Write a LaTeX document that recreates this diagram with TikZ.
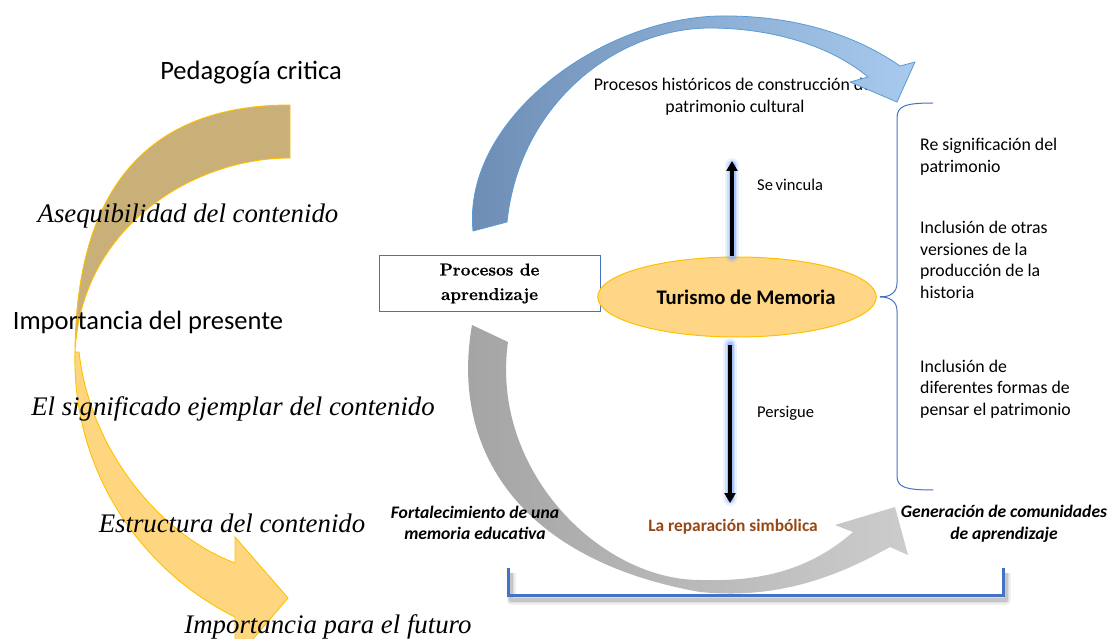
\documentclass[tikz,border=0pt]{standalone}
\usepackage{fontspec}
\setmainfont{Liberation Serif}
\newfontfamily\calib{Carlito}
\newfontfamily\lmfont[BoldFeatures={FakeBold=0.7}]{Latin Modern Roman}
\usetikzlibrary{arrows.meta,shapes.geometric}
\definecolor{tanc}{RGB}{201,175,120}
\definecolor{yelc}{RGB}{255,214,128}
\definecolor{goldc}{RGB}{255,192,0}
\definecolor{bluebr}{RGB}{68,114,196}
\definecolor{bluedk}{RGB}{108,140,180}
\definecolor{bluelt}{RGB}{168,202,238}
\definecolor{blueed}{RGB}{91,155,213}
\definecolor{glowc}{RGB}{120,165,255}
\definecolor{brownc}{RGB}{150,72,20}
\definecolor{ellc}{RGB}{255,214,133}
\begin{document}
\begin{tikzpicture}[x=1pt,y=-1pt,
  calbig/.style={font=\calib\fontsize{26.5}{30}\selectfont, inner sep=0pt},
  serit/.style={font=\itshape\fontsize{26.8}{30}\selectfont, inner sep=0pt},
  calmid/.style={font=\calib\fontsize{17.8}{21.5}\selectfont, inner sep=0pt, align=left},
  calbi/.style={font=\calib\bfseries\itshape\fontsize{17.6}{21.5}\selectfont, inner sep=0pt, align=center},
  glowline/.style={glowc, line cap=round},
  blkarrow/.style={black, line width=3.5pt, -{Triangle[width=11pt,length=10pt]}},
  braceline/.style={bluebr, line width=1pt},
  bracket/.style={bluebr, line width=3pt}]
\useasboundingbox (0,0) rectangle (1109,639);

% ---------- yellow ribbon arrow (left) ----------
\filldraw[fill=tanc, draw=goldc, line width=0.9pt]
  (290,105) .. controls (160,105) and (76,175) .. (75,353)
  .. controls (80,230) and (190,158) .. (290,158) -- cycle;
\filldraw[fill=yelc, draw=goldc, line width=0.9pt]
  (75,352) .. controls (72,470) and (140,570) .. (235,617)
  -- (235,660) -- (288,598) -- (235,537) -- (235,563)
  .. controls (160,535) and (90,450) .. (79,352) -- cycle;

% ---------- left texts ----------
\node[calbig] (pc) at (251,73) {Pedagogía critica};
\node[serit] (as) at (188,216) {Asequibilidad del contenido};
\node[calbig] (ip) at (148,322) {Importancia del presente};
\node[serit] (es) at (233,409) {El significado ejemplar del contenido};
\node[serit] (ec) at (232,523) {Estructura del contenido};
\node[serit] (if) at (328,627) {Importancia para el futuro};

% ---------- top text ----------
\node[calmid, align=center] (ph) at (735,97) {Procesos históricos de construcción del\\patrimonio cultural};

% ---------- blue ribbon arrow (top) ----------
\shade[left color=bluedk, right color=bluelt, draw=blueed, line width=0.8pt]
  (473,231) .. controls (462,120) and (600,18) .. (720,16)
  .. controls (800,15) and (860,38) .. (900,66)
  -- (915,62) -- (897,102) -- (850,82) -- (868,77)
  .. controls (830,45) and (770,28) .. (710,28)
  .. controls (620,28) and (520,100) .. (507,222) -- cycle;

% ---------- bracket at bottom ----------
\coordinate (bl) at (508,568);
\coordinate (br) at (1003,568);
\foreach \w/\o in {9/0.06,6/0.08,4/0.10}{
  \draw[black, line width=\w pt, opacity=\o, line join=round]
    ([shift={(3,5)}]bl) -- ++(0,27) -| ([shift={(3,5)}]br);}
\draw[bracket] (bl) -- ++(0,27) -| (br);

% ---------- gray ribbon arrow (bottom) ----------
\shade[left color=black!36, right color=black!20]
  (472,325) .. controls (450,450) and (520,560) .. (700,592)
  .. controls (780,600) and (840,575) .. (890,547)
  -- (908,555) -- (895,507) -- (835,525) -- (853,532)
  .. controls (810,570) and (760,582) .. (700,580)
  .. controls (600,580) and (490,470) .. (508,342) -- cycle;

% ---------- box ----------
\node[draw=bluebr, line width=1pt, minimum width=221pt, minimum height=55pt, inner sep=0pt,
  align=center, font=\lmfont\bfseries\fontsize{17.2}{24.5}\selectfont] (pa) at (489.5,283.5)
  {Procesos de\\aprendizaje};

% ---------- ellipse ----------
\node[ellipse, fill=ellc, draw=goldc, line width=1pt, minimum width=234pt, minimum height=80pt,
  inner sep=0pt, font=\calib\bfseries\fontsize{20.7}{24}\selectfont] (tm) at (737,297)
  {\hspace*{18pt}Turismo de Memoria};

% ---------- vertical arrows with glow ----------
\coordinate (uS) at (732,256);
\coordinate (uE) at (732,161);
\coordinate (dS) at (730,345);
\coordinate (dE) at (730,503);
\foreach \w/\o in {14/0.15,10/0.25,7/0.45}{
  \draw[glowline, line width=\w pt, opacity=\o] (uS) -- ([yshift=-4pt]uE);
  \draw[glowline, line width=\w pt, opacity=\o] (dS) -- ([yshift=4pt]dE);}
\draw[blkarrow] (uS) -- (uE);
\draw[blkarrow] (dS) -- (dE);
\node[font=\calib\fontsize{16.5}{19}\selectfont, inner sep=0pt, anchor=west] (sv) at (757,185) {Se\,vincula};
\node[font=\calib\fontsize{16.5}{19}\selectfont, inner sep=0pt, anchor=west] (pe) at (757,413) {Persigue};

% ---------- brace ----------
\coordinate (bt) at (880,297);
\draw[braceline] (933,103) .. controls (905,103) and (897,106) .. (897,118)
  -- (897,283) .. controls (897,292) and (891,297) .. (bt)
  .. controls (891,297) and (897,302) .. (897,311)
  -- (897,476) .. controls (897,487) and (905,490) .. (933,490);
\draw[braceline] ([xshift=9pt]tm.east) -- (bt);

% ---------- right texts ----------
\node[calmid, anchor=west] (r1) at (920,157) {Re significación del\\patrimonio};
\node[calmid, anchor=west] (r2) at (920,260) {Inclusión de otras\\versiones de la\\producción de la\\historia};
\node[calmid, anchor=west] (r3) at (920,389) {Inclusión de\\diferentes formas de\\pensar el patrimonio};

% ---------- bottom texts ----------
\node[calbi] (fo) at (475,523) {Fortalecimiento de una\\memoria educativa};
\node[font=\calib\bfseries\fontsize{17.4}{20}\selectfont, text=brownc, inner sep=0pt] (lr) at (733,527) {La reparación simbólica};
\node[calbi] (ge) at (1004,524) {Generación de comunidades\\de aprendizaje};
\end{tikzpicture}
\end{document}
